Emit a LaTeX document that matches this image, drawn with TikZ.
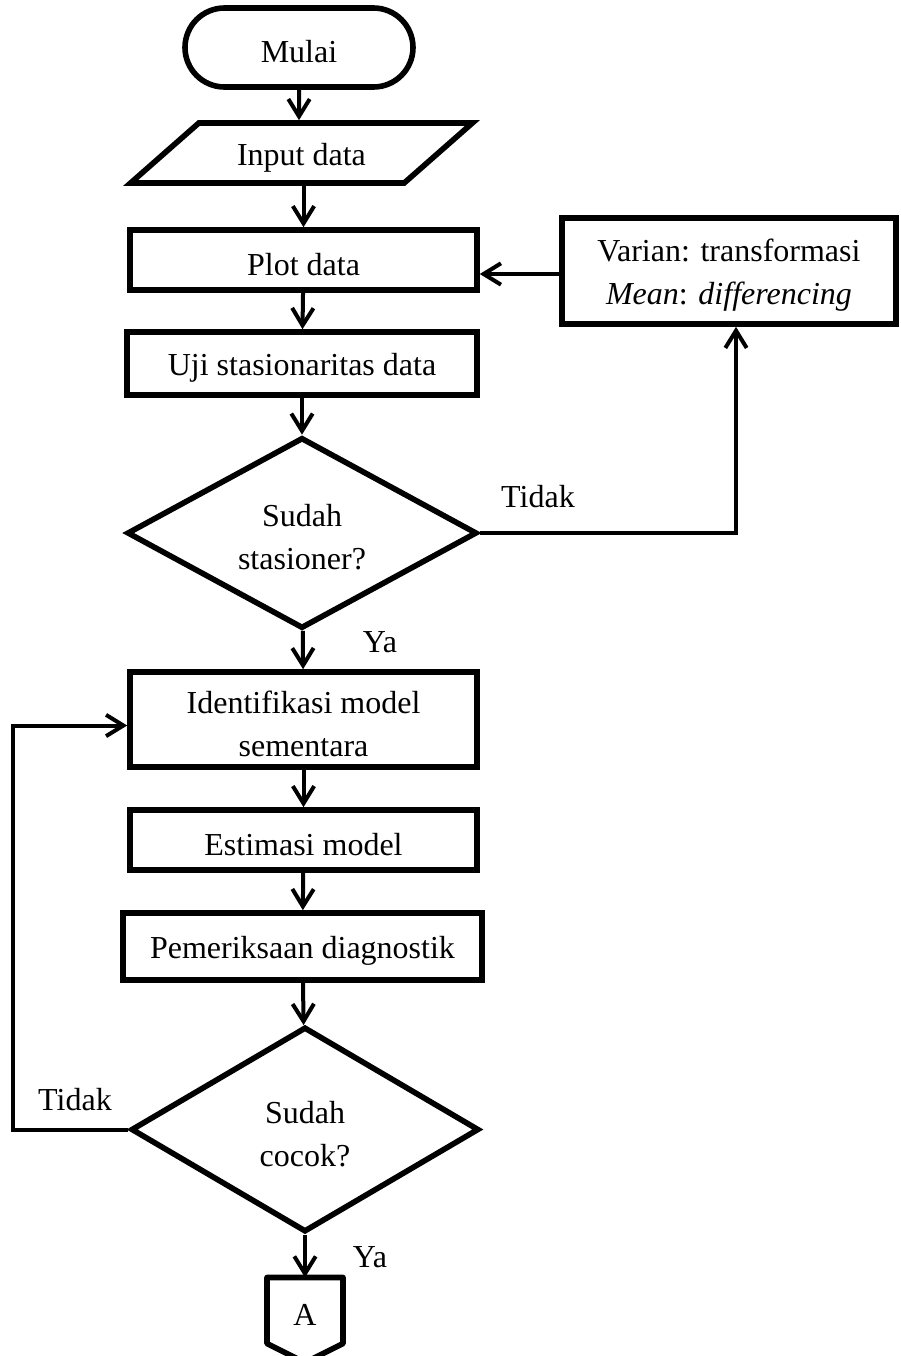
\documentclass[tikz,border=0pt]{standalone}
\usepackage{fontspec}
\setmainfont{Liberation Serif}
\usetikzlibrary{shapes.geometric,shapes.misc,arrows.meta,calc}

\newcommand{\firstline}{\rule{0pt}{11.6pt}}

\begin{document}
\begin{tikzpicture}[x=0.375pt,y=-0.375pt,
    font=\fontsize{12}{16}\selectfont,
    lowered/.style={execute at begin node={\firstline}},
    box/.style={draw, line width=2.1pt, rectangle, align=center, inner sep=0pt, lowered},
    terminal/.style={draw, line width=2.1pt, rounded rectangle, inner sep=0pt, lowered},
    inputbox/.style={draw, line width=2.1pt, trapezium, trapezium left angle=41.4,
        trapezium right angle=138.6, trapezium stretches=true, inner sep=0pt, lowered},
    decision/.style={draw, line width=2.1pt, diamond, aspect=1.8, align=center, inner sep=0pt},
    arr/.style={line width=1.5pt, -{Straight Barb[length=6.5pt,width=8pt]}},
    lbl/.style={inner sep=0pt}]
        \useasboundingbox (0,0) rectangle (900,1356);

        \node[terminal, minimum width=228*0.375pt, minimum height=79*0.375pt] (mulai) at (299,47.5) {Mulai};
        \node[inputbox, minimum width=343*0.375pt, minimum height=60*0.375pt] (input) at (301.5,153) {Input data};
        \node[box, minimum width=347*0.375pt, minimum height=60*0.375pt] (plot) at (303.5,260) {Plot data};
        \node[box, minimum width=350*0.375pt, minimum height=63*0.375pt] (uji) at (302,363.5) {Uji stasionaritas data};
        \node[decision, minimum width=350*0.375pt, minimum height=191*0.375pt] (stasioner) at (302,533) {\firstline Sudah\\stasioner?};
        \node[box, minimum width=334*0.375pt, minimum height=106*0.375pt] (varian) at (729,271) {\firstline Varian: transformasi\\\textit{Mean}: \textit{differencing}};

        \node[box, minimum width=347*0.375pt, minimum height=95*0.375pt] (identifikasi) at (303.5,719.5) {\firstline Identifikasi model\\sementara};
        \node[box, minimum width=347*0.375pt, minimum height=60*0.375pt] (estimasi) at (303.5,840) {Estimasi model};
        \node[box, minimum width=359*0.375pt, minimum height=67*0.375pt] (diagnostik) at (302.5,946.5) {Pemeriksaan diagnostik};
        \node[decision, minimum width=348*0.375pt, minimum height=205*0.375pt] (cocok) at (305,1129.5) {\firstline Sudah\\cocok?};

        % Off-page connector
        \node[minimum width=75*0.375pt, minimum height=65*0.375pt, inner sep=0pt, lowered] (A) at (305,1310.5) {A};
        \draw[line width=2.1pt, line join=round] (A.south west) -- (A.north west) -- (A.north east)
            -- (A.south east) -- ($(A.south)+(0,19)$) -- cycle;

        \draw[arr] (mulai) -- (mulai |- input.north);
        \draw[arr] (input.south -| plot.north) -- (plot);
        \draw[arr] (plot) -- (uji);
        \draw[arr] (uji) -- (stasioner);
        \draw[arr] (stasioner) -- (identifikasi);
        \draw[arr] (identifikasi) -- (estimasi);
        \draw[arr] (estimasi) -- (diagnostik);
        \draw[arr] (diagnostik) -- (cocok);
        \draw[arr] (cocok) -- (A);

        \draw[arr] (stasioner.east) -| ([xshift=7*0.375pt]varian.south);
        \draw[arr] ([yshift=-3*0.375pt]varian.west) -- ([yshift=-3*0.375pt]varian.west -| plot.east);

        \coordinate (back) at (13,1129.5);
        \draw[arr] (cocok.west) -- (back) |- ([yshift=-6*0.375pt]identifikasi.west);

        \node[lbl] (tidak1) at (538,497) {Tidak};
        \node[lbl] (ya1) at (380,642) {Ya};
        \node[lbl] (tidak2) at (75,1100) {Tidak};
        \node[lbl] (ya2) at (370,1257) {Ya};
    \end{tikzpicture}
\end{document}
